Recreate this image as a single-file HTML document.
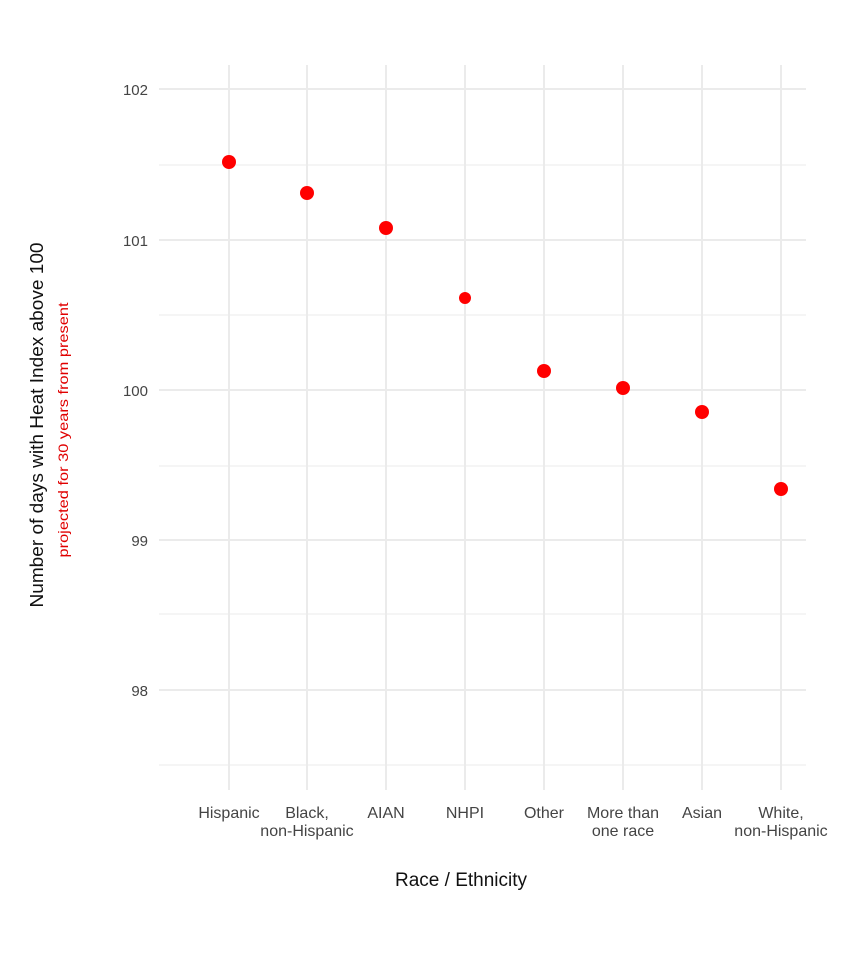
<!DOCTYPE html>
<html><head><meta charset="utf-8"><style>body{margin:0;background:#fff}</style></head><body>
<svg width="867" height="960" xmlns="http://www.w3.org/2000/svg" font-family="Liberation Sans, sans-serif">
<g stroke="#ebebeb" stroke-width="1">
<line x1="159" x2="806" y1="165" y2="165"/><line x1="159" x2="806" y1="315" y2="315"/><line x1="159" x2="806" y1="466" y2="466"/><line x1="159" x2="806" y1="614" y2="614"/><line x1="159" x2="806" y1="765" y2="765"/>
</g>
<g stroke="#ebebeb" stroke-width="2">
<line x1="159" x2="806" y1="89" y2="89"/><line x1="159" x2="806" y1="240" y2="240"/><line x1="159" x2="806" y1="390" y2="390"/><line x1="159" x2="806" y1="540" y2="540"/><line x1="159" x2="806" y1="690" y2="690"/>
<line x1="229" x2="229" y1="65" y2="790"/><line x1="307" x2="307" y1="65" y2="790"/><line x1="386" x2="386" y1="65" y2="790"/><line x1="465" x2="465" y1="65" y2="790"/><line x1="544" x2="544" y1="65" y2="790"/><line x1="623" x2="623" y1="65" y2="790"/><line x1="702" x2="702" y1="65" y2="790"/><line x1="781" x2="781" y1="65" y2="790"/>
</g>
<g fill="#444" font-size="15" text-anchor="end">
<text x="148" y="95">102</text><text x="148" y="246">101</text><text x="148" y="396">100</text><text x="148" y="546">99</text><text x="148" y="696">98</text>
</g>
<g fill="#444" font-size="16" text-anchor="middle">
<text x="229" y="818">Hispanic</text>
<text x="307" y="818">Black,</text><text x="307" y="836">non-Hispanic</text>
<text x="386" y="818">AIAN</text>
<text x="465" y="818">NHPI</text>
<text x="544" y="818">Other</text>
<text x="623" y="818">More than</text><text x="623" y="836">one race</text>
<text x="702" y="818">Asian</text>
<text x="781" y="818">White,</text><text x="781" y="836">non-Hispanic</text>
</g>
<text x="461" y="886" font-size="19" text-anchor="middle" fill="#111">Race / Ethnicity</text>
<text transform="translate(43,425) rotate(-90)" font-size="18" text-anchor="middle" fill="#111" textLength="365" lengthAdjust="spacingAndGlyphs">Number of days with Heat Index above 100</text>
<text transform="translate(68,430) rotate(-90)" font-size="14" text-anchor="middle" fill="#e00000" textLength="255" lengthAdjust="spacingAndGlyphs">projected for 30 years from present</text>
<g fill="#ff0000">
<circle cx="229" cy="162" r="7"/><circle cx="307" cy="193" r="7"/><circle cx="386" cy="228" r="7"/><circle cx="465" cy="298" r="6"/><circle cx="544" cy="371" r="7"/><circle cx="623" cy="388" r="7"/><circle cx="702" cy="412" r="7"/><circle cx="781" cy="489" r="7"/>
</g>
</svg>
</body></html>
